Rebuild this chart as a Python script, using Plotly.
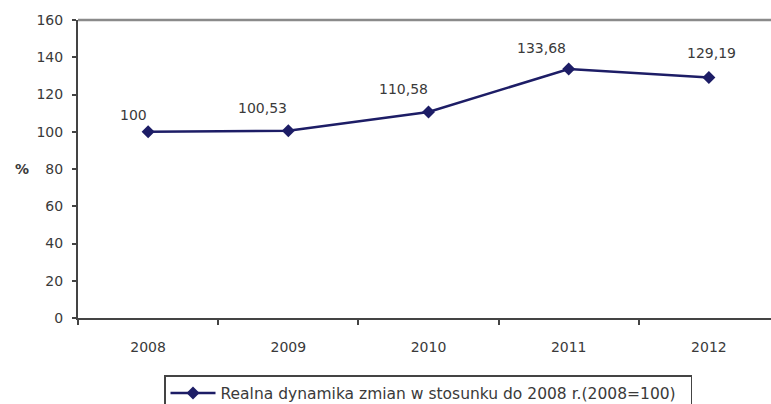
import plotly.graph_objects as go

# Real change relative to 2008 (2008 = 100)
years = ["2008", "2009", "2010", "2011", "2012"]
values = [100, 100.53, 110.58, 133.68, 129.19]
series_name = "Realna dynamika zmian w stosunku do 2008 r.(2008=100)"
y_ticks = [0, 20, 40, 60, 80, 100, 120, 140, 160]

# label offsets (px) relative to each point
label_dx = [-15, -26, -25, -27, 3]
label_dy = [17, 23, 23, 21, 24]

FONT = "DejaVu Sans"
TEXT = "#3a3a3a"
NAVY = "#1d1d66"


def fmt(v):
    if float(v).is_integer():
        return str(int(v))
    return f"{v:.2f}".replace(".", ",")


fig = go.Figure()
fig.add_trace(go.Scatter(
    x=years, y=values, mode="lines+markers", name=series_name,
    line=dict(color=NAVY, width=2.5),
    marker=dict(symbol="diamond", size=10, color=NAVY),
    showlegend=True,
))

for i, (v, dx, dy) in enumerate(zip(values, label_dx, label_dy)):
    fig.add_annotation(x=i, y=v, xref="x", yref="y", text=fmt(v),
                       showarrow=False, xshift=dx, yshift=dy,
                       font=dict(family=FONT, size=14, color=TEXT))

fig.add_annotation(x=(22 - 78) / 693, y=80, xref="paper", yref="y", text="<b>%</b>",
                   showarrow=False, xanchor="center", yanchor="middle",
                   font=dict(family=FONT, size=14, color=TEXT))

fig.update_layout(
    width=771, height=404,
    margin=dict(l=78, r=0, t=19.5, b=85.5, autoexpand=False),
    paper_bgcolor="white", plot_bgcolor="white",
    font=dict(family=FONT, size=13, color=TEXT),
    xaxis=dict(
        type="category", range=[-0.5, 4.443], tickson="boundaries",
        automargin=False,
        showgrid=False, zeroline=False,
        showline=True, linecolor="#444444", linewidth=2, mirror=False,
        ticks="outside", ticklen=5, tickwidth=1.5, tickcolor="#444444",
        ticklabelstandoff=15,
        tickfont=dict(family=FONT, size=14, color=TEXT),
    ),
    yaxis=dict(
        range=[0, 160], tickvals=y_ticks,
        automargin=False,
        showgrid=False, zeroline=False,
        showline=True, linecolor="#444444", linewidth=2,
        ticks="outside", ticklen=4, tickwidth=1.5, tickcolor="#444444",
        ticklabelstandoff=6,
        tickfont=dict(family=FONT, size=14, color=TEXT),
    ),
    legend=dict(
        orientation="h", xref="container", yref="container",
        x=164 / 771, y=1 - 375 / 404,
        xanchor="left", yanchor="top",
        itemwidth=45, entrywidth=465,
        bordercolor="#444444", borderwidth=1.5, bgcolor="white",
        font=dict(family=FONT, size=15.5, color=TEXT),
    ),
    shapes=[dict(type="line", xref="paper", yref="paper", x0=0, x1=1, y0=1, y1=1,
                 line=dict(color="#8a8a8a", width=2.5))],
)

fig.write_html("out.html")
